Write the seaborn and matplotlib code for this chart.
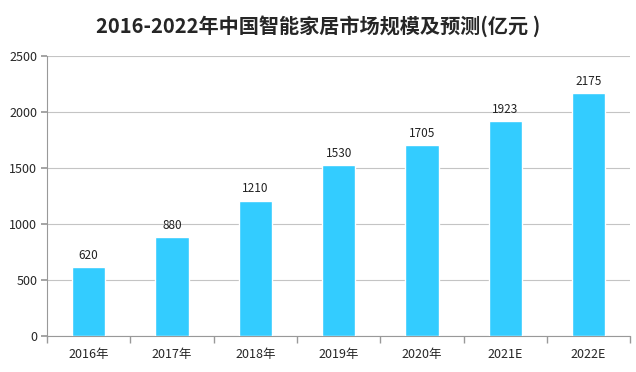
import matplotlib
matplotlib.use("Agg")
import matplotlib.pyplot as plt
import numpy as np
import pandas as pd
import seaborn as sns

# data
years = ["2016年", "2017年", "2018年", "2019年", "2020年", "2021E", "2022E"]
market_size = [620, 880, 1210, 1530, 1705, 1923, 2175]
title = "2016-2022年中国智能家居市场规模及预测(亿元 )"

sns.set_theme(style="white")
plt.rcParams['font.family'] = ['Noto Sans CJK SC', 'DejaVu Sans']

df = pd.DataFrame({"year": years, "size": market_size})

fig = plt.figure(figsize=(6.36, 3.72), dpi=100)
ax = fig.add_axes([0.074, 0.097, 0.917, 0.752])

sns.barplot(data=df, x="year", y="size", color="#33CCFF", saturation=1,
            width=0.4, ax=ax, zorder=3)

# value labels above bars
for i, v in enumerate(market_size):
    ax.text(i, v + 45, f"{v}", ha="center", va="bottom", fontsize=8.5, color="#222222")

ax.set_ylim(0, 2500)
ax.set_yticks(np.arange(0, 2501, 500))
ax.set_xlim(-0.5, len(years) - 0.5)
ax.grid(True, axis="y", color="#C4C4C4", linewidth=0.8, zorder=0)
ax.set_axisbelow(True)

# category boundary ticks on the x axis
ax.set_xticks(np.arange(-0.5, len(years), 1.0), minor=True)
ax.tick_params(axis="x", which="major", length=0, labelsize=9, pad=9)
ax.tick_params(axis="x", which="minor", length=5, color="#999999", direction="out", bottom=True)
ax.tick_params(axis="y", length=4, color="#999999", labelsize=9, left=True, pad=3)

for side in ["top", "right"]:
    ax.spines[side].set_visible(False)
for side in ["left", "bottom"]:
    ax.spines[side].set_color("#999999")
    ax.spines[side].set_linewidth(0.8)

ax.set_xlabel("")
ax.set_ylabel("")
fig.text(0.5, 0.93, title, ha="center", va="center", fontsize=14.5, fontweight="bold")

fig.savefig("out.png", dpi=100)
